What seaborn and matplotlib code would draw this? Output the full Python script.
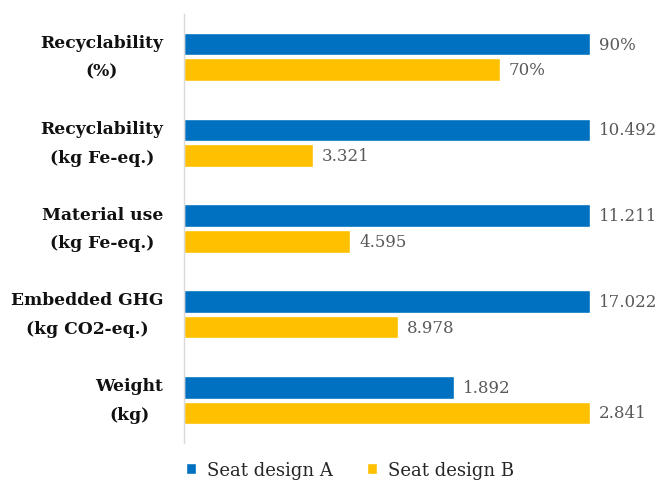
import matplotlib
matplotlib.use("Agg")
import matplotlib.pyplot as plt
import seaborn as sns
import pandas as pd
from matplotlib.patches import Patch

categories = ["Recyclability\n(%)", "Recyclability\n(kg Fe-eq.)", "Material use\n(kg Fe-eq.)",
              "Embedded GHG\n(kg CO2-eq.)", "Weight\n(kg)"]
series = ["Seat design A", "Seat design B"]
design_a = [90, 10.492, 11.211, 17.022, 1.892]
design_b = [70, 3.321, 4.595, 8.978, 2.841]
labels_a = ["90%", "10.492", "11.211", "17.022", "1.892"]
labels_b = ["70%", "3.321", "4.595", "8.978", "2.841"]
colors = ["#0070C0", "#FFC000"]

rows = []
for i, c in enumerate(categories):
    m = max(design_a[i], design_b[i])
    rows.append((c, series[0], design_a[i] / m, labels_a[i]))
    rows.append((c, series[1], design_b[i] / m, labels_b[i]))
df = pd.DataFrame(rows, columns=["category", "series", "share", "label"])

sns.set_style("white")
plt.rcParams["font.family"] = ["DejaVu Serif"]

fig = plt.figure(figsize=(6.62, 4.85), dpi=100)
ax = fig.add_axes([184 / 662, 1 - 444 / 485, (590 - 184) / 662, (444 - 15) / 485])
sns.barplot(data=df, y="category", x="share", hue="series", palette=colors,
            orient="h", width=0.6, gap=0.12, ax=ax, legend=False, saturation=1)

ax.set_xlim(0, 1)
ax.set_ylim(4.5, -0.5)
ax.set_xlabel("")
ax.set_ylabel("")
ax.set_xticks([])
for s in ["top", "right", "bottom"]:
    ax.spines[s].set_visible(False)
ax.spines["left"].set_color("#D9D9D9")
ax.spines["left"].set_linewidth(1.0)
ax.tick_params(axis="y", length=0, pad=15)
for t in ax.get_yticklabels():
    t.set_fontweight("bold")
    t.set_fontsize(12.3)
    t.set_multialignment("center")
    t.set_linespacing(1.9)
    t.set_verticalalignment("center")
    t.set_color("#111111")

for cont, labs in zip(ax.containers, [labels_a, labels_b]):
    ax.bar_label(cont, labels=labs, padding=6.5, fontsize=12, color="#595959", clip_on=False)

handles = [Patch(facecolor=colors[0], label=series[0]),
           Patch(facecolor=colors[1], label=series[1])]
fig.legend(handles=handles, loc="center", bbox_to_anchor=(350 / 662, 1 - 471 / 485),
           ncol=2, frameon=False, fontsize=13, handlelength=0.55, handleheight=0.55,
           columnspacing=1.9, handletextpad=0.6, labelcolor="#262626")

fig.savefig("out.png", dpi=100)
